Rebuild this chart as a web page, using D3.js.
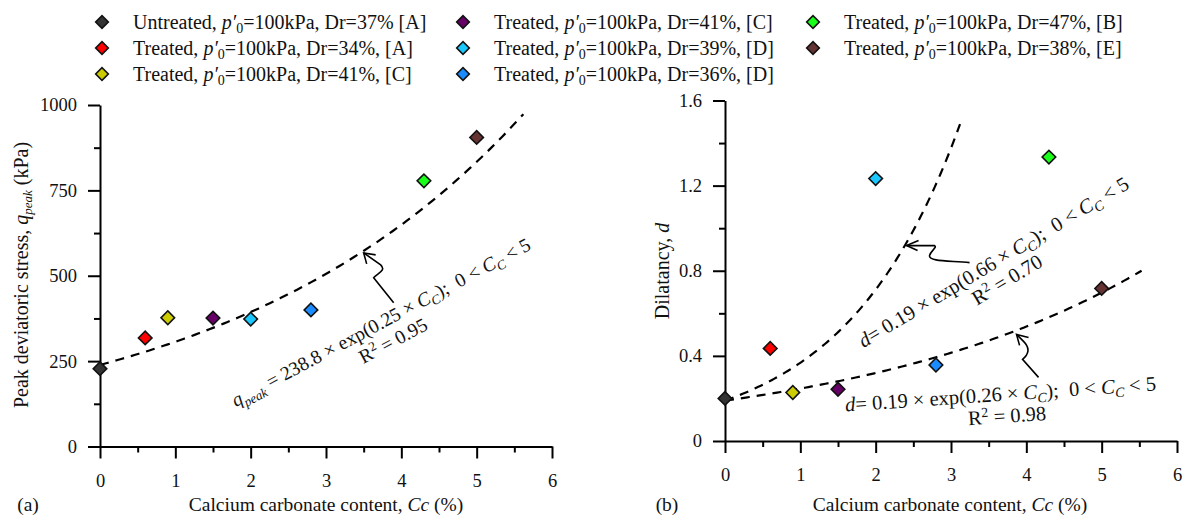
<!DOCTYPE html>
<html><head><meta charset="utf-8">
<script src="https://cdn.jsdelivr.net/npm/d3@7"></script>
<style>
body{margin:0;background:#fff}
svg{font-family:"Liberation Serif","DejaVu Serif",serif}
</style></head>
<body><svg id="c" width="1188" height="520"></svg>
<script>
// ---------------- data ----------------
const condition = ["Untreated","Treated","Treated","Treated","Treated","Treated","Treated","Treated"];
const relDensity = [37,34,41,41,39,36,47,38];
const refTag = ["[A]","[A]","[C]","[C]","[D]","[D]","[B]","[E]"];
const pressure = [100,100,100,100,100,100,100,100];
const cc = [0,0.6,0.9,1.5,2.0,2.8,4.3,5.0];
const qPeak = [228,318,377,376,373,400,778,905];
const dilatancy = [0.20,0.435,0.228,0.243,1.233,0.357,1.334,0.717];
const colors = ["#333333","#ff0000","#cccc00","#660066","#1ac8ff","#1a8cff","#1aff1a","#663333"];
const xTicks = [0,1,2,3,4,5,6];
const qTicks = [0,250,500,750,1000];
const dTicks = [0,0.4,0.8,1.2,1.6];
// fitted trend lines given on the chart: y = a*exp(b*Cc)
const qFit = {a:238.8,b:0.25,xmax:5.62};
const dFitHigh = {a:0.19,b:0.66,xmax:3.12};
const dFitLow = {a:0.19,b:0.26,xmax:5.53};

const svg = d3.select("#c");
const black = "#000";
const SP = "\u00a0";

// ---------------- scales ----------------
const xA = d3.scaleLinear().domain([0,6]).range([100,552]);
const yA = d3.scaleLinear().domain([0,1000]).range([446.5,105]);
const xB = d3.scaleLinear().domain([0,6]).range([725,1177]);
const yB = d3.scaleLinear().domain([0,1.6]).range([441,100.5]);

function drawAxes(x, y, majorY, yMinor, fmt){
  const g = svg.append("g");
  const minorX = d3.range(0.5,6,1);
  g.append("g").attr("transform",`translate(0,${y.range()[0]})`)
    .call(d3.axisBottom(x).tickValues(minorX).tickSize(6).tickSizeOuter(0).tickFormat(""))
    .call(s=>s.select(".domain").remove());
  g.append("g").attr("transform",`translate(${x.range()[0]},0)`)
    .call(d3.axisLeft(y).tickValues(yMinor).tickSize(6).tickSizeOuter(0).tickFormat(""))
    .call(s=>s.select(".domain").remove());
  g.append("g").attr("transform",`translate(0,${y.range()[0]})`)
    .call(d3.axisBottom(x).tickValues(xTicks).tickSize(12).tickSizeOuter(0).tickPadding(15).tickFormat(d3.format("d")));
  g.append("g").attr("transform",`translate(${x.range()[0]},0)`)
    .call(d3.axisLeft(y).tickValues(majorY).tickSize(12).tickSizeOuter(0).tickPadding(11).tickFormat(fmt));
  g.selectAll("text").attr("font-size",18.5).attr("font-family","Liberation Serif").attr("fill","#111");
  g.selectAll("line").attr("stroke",black).attr("stroke-width",2);
  g.selectAll(".domain").attr("stroke",black).attr("stroke-width",2);
}
drawAxes(xA,yA,qTicks,[125,375,625,875],d3.format("d"));
drawAxes(xB,yB,dTicks,[0.2,0.6,1.0,1.4],v=>v===0?"0":d3.format(".1f")(v));

// ---------------- trend lines ----------------
function fitLine(x,y,f){
  const pts = d3.range(0,f.xmax+1e-9,f.xmax/120).map(v=>[v,f.a*Math.exp(f.b*v)]);
  svg.append("path").datum(pts)
    .attr("d",d3.line().x(d=>x(d[0])).y(d=>y(d[1])))
    .attr("fill","none").attr("stroke",black).attr("stroke-width",2.2)
    .attr("stroke-dasharray","9,7");
}
fitLine(xA,yA,qFit);
fitLine(xB,yB,dFitHigh);
fitLine(xB,yB,dFitLow);

// ---------------- markers ----------------
const diamond = d3.symbol(d3.symbolSquare,92);
function points(x,y,vals){
  svg.append("g").selectAll("path").data(cc).join("path")
    .attr("d",diamond)
    .attr("transform",(d,i)=>`translate(${x(d)},${y(vals[i])}) rotate(45)`)
    .attr("fill",(d,i)=>colors[i]).attr("stroke","#111").attr("stroke-width",1.6);
}
points(xA,yA,qPeak);
points(xB,yB,dilatancy);

// ---------------- legend ----------------
const legCols = [102,463,813];
const legRows = [22,48,74];
condition.forEach((c,i)=>{
  const cx = legCols[Math.floor(i/3)], cy = legRows[i%3];
  svg.append("path").attr("d",d3.symbol(d3.symbolSquare,80)).attr("transform",`translate(${cx},${cy}) rotate(45)`)
    .attr("fill",colors[i]).attr("stroke","#111").attr("stroke-width",1.6);
  const t = svg.append("text").attr("x",cx+31).attr("y",cy+6.5).attr("font-size",20).attr("fill","#111");
  t.append("tspan").text(c+","+SP);
  t.append("tspan").attr("font-style","italic").text("p\u2032");
  t.append("tspan").attr("font-size",14).attr("dy",4).text("0");
  t.append("tspan").attr("dy",-4).text(`=${pressure[i]}kPa,${SP}Dr=${relDensity[i]}%${i===0?"":","}${SP}${refTag[i]}`);
});

// ---------------- axis titles ----------------
function xTitle(cxp, label){
  const t = svg.append("text").attr("x",cxp).attr("y",511).attr("text-anchor","middle").attr("font-size",19.5).attr("fill","#111");
  t.append("tspan").text("Calcium carbonate content,"+SP);
  t.append("tspan").attr("font-style","italic").text("Cc");
  t.append("tspan").text(SP+"(%)");
  svg.append("text").attr("x",label[1]).attr("y",511).attr("text-anchor","middle").attr("font-size",19.5).attr("fill","#111").text(label[0]);
}
xTitle(326,["(a)",28]);
xTitle(950,["(b)",667]);

{
  const t = svg.append("text").attr("transform","translate(28,275) rotate(-90)").attr("text-anchor","middle").attr("font-size",20).attr("fill","#111");
  t.append("tspan").text("Peak deviatoric stress,"+SP);
  t.append("tspan").attr("font-style","italic").text("q");
  t.append("tspan").attr("font-style","italic").attr("font-size",13).attr("dy",4).text("peak");
  t.append("tspan").attr("dy",-4).text(SP+"(kPa)");
}
{
  const t = svg.append("text").attr("transform","translate(669,271) rotate(-90)").attr("text-anchor","middle").attr("font-size",20).attr("fill","#111");
  t.append("tspan").text("Dilatancy,"+SP);
  t.append("tspan").attr("font-style","italic").text("d");
}

// ---------------- equations ----------------
function equation(cx,cy,angle,fs,lhs,lhsSub,body,r2,r2off){
  const g = svg.append("g").attr("transform",`translate(${cx},${cy}) rotate(${angle})`);
  const sub = fs*0.68;
  const t = g.append("text").attr("text-anchor","middle").attr("font-size",fs).attr("fill","#111");
  t.append("tspan").attr("font-style","italic").text(lhs);
  if(lhsSub){ t.append("tspan").attr("font-style","italic").attr("font-size",sub).attr("dy",5).text(lhsSub); t.append("tspan").attr("dy",-5).text(SP); }
  t.append("tspan").text(body);
  t.append("tspan").attr("font-style","italic").text("C");
  t.append("tspan").attr("font-style","italic").attr("font-size",sub).attr("dy",4).text("C");
  t.append("tspan").attr("dy",-4).text(");"+SP+SP+"0"+SP+"<"+SP);
  t.append("tspan").attr("font-style","italic").text("C");
  t.append("tspan").attr("font-style","italic").attr("font-size",sub).attr("dy",4).text("C");
  t.append("tspan").attr("dy",-4).text(SP+"<"+SP+"5");
  const r = g.append("text").attr("x",r2off[0]).attr("y",r2off[1]).attr("text-anchor","middle").attr("font-size",fs).attr("fill","#111");
  r.append("tspan").text("R");
  r.append("tspan").attr("font-size",sub).attr("dy",-7).text("2");
  r.append("tspan").attr("dy",7).text(SP+"="+SP+r2);
}
equation(384,328,-28.1,19.5,"q","peak","="+SP+"238.8"+SP+"\u00d7"+SP+"exp(0.25"+SP+"\u00d7"+SP,"0.95",[2,22]);
equation(997,268,-31,20.5,"d","","="+SP+"0.19"+SP+"\u00d7"+SP+"exp(0.66"+SP+"\u00d7"+SP,"0.70",[2.5,22]);
equation(1001,401,-3.9,20.5,"d","","="+SP+"0.19"+SP+"\u00d7"+SP+"exp(0.26"+SP+"\u00d7"+SP,"0.98",[5,22]);

// ---------------- annotation arrows (tip anchored on the fitted curve) ----------------
const arrows = [
  {x:xA,y:yA,f:qFit,at:3.5,dy:2,path:"M30,50 L10,25 C14,20 23,18 17,12 L0,0",wings:[[12,2],[3,11]]},
  {x:xB,y:yB,f:dFitHigh,at:2.41,dy:3,path:"M63,17 C42,15 22,16 23,10 C24,5 31,2 28,0 L0,0",wings:[[12,-5],[11,5]]},
  {x:xB,y:yB,f:dFitLow,at:3.87,dy:4,path:"M22,43 L6,25 C12,20 14,14 7,7 L0,0",wings:[[12,3],[3,11]]}
];
arrows.forEach(a=>{
  const tx = a.x(a.at), ty = a.y(a.f.a*Math.exp(a.f.b*a.at))+a.dy;
  const g = svg.append("g").attr("transform",`translate(${tx},${ty})`)
    .attr("fill","none").attr("stroke",black).attr("stroke-width",1.6);
  g.append("path").attr("d",a.path);
  g.append("path").attr("d",`M${a.wings[0][0]},${a.wings[0][1]} L0,0 L${a.wings[1][0]},${a.wings[1][1]}`);
});
</script></body></html>
